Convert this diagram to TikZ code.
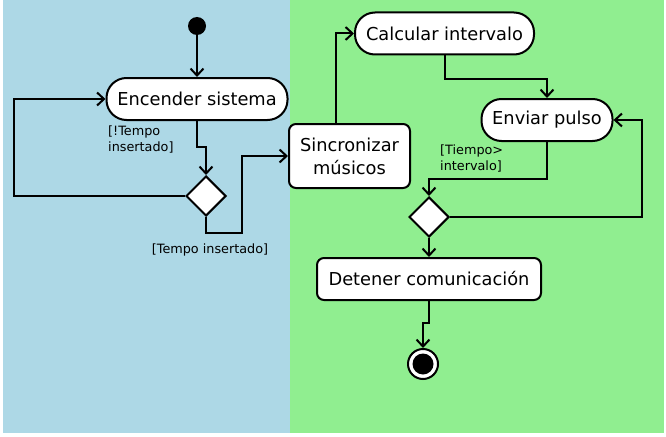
\documentclass[tikz,border=0pt]{standalone}
\usepackage{fontspec}
\setmainfont{DejaVu Sans}
\usepackage{tikz}
\usetikzlibrary{arrows.meta,shapes.geometric}
\definecolor{laneblue}{HTML}{ADD8E6}
\definecolor{lanegreen}{HTML}{90EE90}

\begin{document}
\begin{tikzpicture}[
  x=1pt, y=-1pt,
  font=\fontsize{17.8}{23}\selectfont,
  act/.style={draw, line width=2pt, fill=white, align=center, minimum height=42pt,
              inner xsep=6pt, rounded corners=20pt},
  proc/.style={act, rounded corners=7pt},
  choice/.style={draw, line width=2pt, fill=white, diamond, minimum width=40pt,
                 minimum height=40pt, inner sep=0pt},
  guard/.style={font=\fontsize{12.8}{16}\selectfont, align=left, inner sep=1pt},
  flow/.style={-{Straight Barb[length=7pt, width=13pt, line width=2pt]}, line width=2pt}
]
% swimlanes
\useasboundingbox (0,0) rectangle (666,436);
\fill[laneblue] (3,0) rectangle (290,433);
\fill[lanegreen] (290,0) rectangle (664,433);

\node[circle, fill=black, minimum size=18pt, inner sep=0pt] (start) at (197,26) {};
\node[act, minimum width=181pt] (enc) at (197,99) {Encender sistema};
\node[choice] (d1) at (206,196) {};
\node[proc, minimum width=121pt, minimum height=64pt] (sync) at (349.5,156) {Sincronizar\\músicos};
\node[act, minimum width=179pt] (calc) at (444.5,33.5) {Calcular intervalo};
\node[act, minimum width=131pt] (send) at (547,120) {Enviar pulso};
\node[choice] (d2) at (429,217) {};
\node[proc, minimum width=224pt] (halt) at (429,279) {Detener comunicación};
\node[circle, draw, line width=2pt, fill=white, minimum size=30pt, inner sep=0pt] (stop) at (423,364) {};
\node[circle, fill=black, minimum size=21pt, inner sep=0pt] (stopdot) at (stop) {};

% guards
\node[guard, anchor=west] (gno) at (107,139.5) {[!Tempo\\insertado]};
\node[guard] (gyes) at (210,250) {[Tempo insertado]};
\node[guard, anchor=west] (gtime) at (439,158) {[Tiempo>\\intervalo]};

\draw[flow] (start) -- (enc);
\draw[flow] (enc.south) -- ++(0,26) -| (d1.north);
\draw[flow] (d1.west) -- ++(-171,0) |- (enc.west);
\draw[flow] (d1.south) -- ++(0,16) -- ++(36,0) |- (sync.west);
\draw[flow] ([xshift=-13.5pt]sync.north) |- (calc.west);
\draw[flow] (calc.south) -- ++(0,23) -| (send.north);
\draw[flow] (send.south) -- ++(0,37) -| (d2.north);
\draw[flow] (d2.east) -- ++(192,0) |- (send.east);
\draw[flow] (d2.south) -- (halt.north);
\draw[flow] (halt.south) -- ++(0,22) -| (stop.north);
\end{tikzpicture}
\end{document}
